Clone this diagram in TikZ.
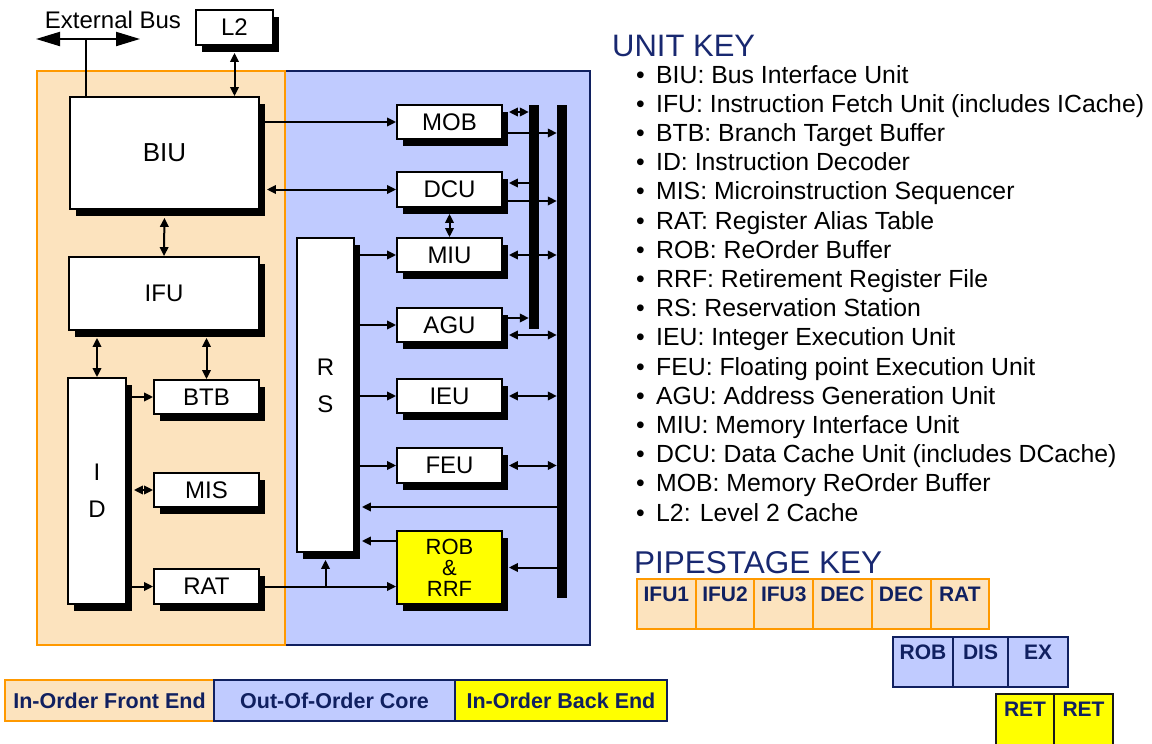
\documentclass[tikz,border=0pt]{standalone}
\usepackage{fontspec}
\setmainfont{Liberation Sans}
\usetikzlibrary{arrows.meta, calc, shadows}

\definecolor{peach}{RGB}{252,227,190}
\definecolor{fronte}{RGB}{255,153,0}
\definecolor{lavender}{RGB}{192,203,255}
\definecolor{navy}{RGB}{16,32,96}
\definecolor{keyblue}{RGB}{24,40,112}
\definecolor{retyellow}{RGB}{255,255,0}

\tikzset{
  unit/.style={draw, line width=1.8pt, fill=white, inner sep=0pt,
    font=\fontsize{24}{28}\selectfont,
    drop shadow={shadow xshift=6pt, shadow yshift=-7pt, fill=black, opacity=1}},
  bus/.style={fill=black, inner sep=0pt, minimum width=10pt},
  link/.style={line width=2pt},
  stage/.style={line width=2pt, inner sep=0pt, anchor=north west},
  stagetext/.style={font=\bfseries\fontsize{21}{24}\selectfont, text=navy,
    inner sep=0pt, anchor=north, yshift=-9pt},
  legend/.style={line width=2pt, inner sep=0pt, minimum height=41pt, anchor=north west,
    font=\bfseries\fontsize{21.5}{24}\selectfont, text=navy},
}

\begin{document}
\begin{tikzpicture}[x=1pt, y=-1pt, >={Triangle[length=9pt,width=8.5pt]}]
  \useasboundingbox (0,0) rectangle (1152,744);
  % the two core regions
  \filldraw[fill=lavender, draw=navy, line width=2pt] (285,71) rectangle (590,645);
  \filldraw[fill=peach, draw=fronte, line width=2pt] (37,71) rectangle (285,645);

  % front end units
  \node[unit, minimum width=77pt, minimum height=35pt] (l2) at (234.5,27.5) {L2};
  \node[unit, minimum width=189pt, minimum height=112pt, font=\fontsize{26}{30}\selectfont] (biu) at (164.5,153) {BIU};
  \node[unit, minimum width=190pt, minimum height=73pt] (ifu) at (164,293.5) {IFU};
  \node[unit, minimum width=58pt, minimum height=226pt, align=center, font=\fontsize{24}{37}\selectfont] (id) at (97,491) {I\\D};
  \node[unit, minimum width=105pt, minimum height=34pt] (btb) at (206.5,397) {BTB};
  \node[unit, minimum width=105pt, minimum height=34pt] (mis) at (206.5,490) {MIS};
  \node[unit, minimum width=105pt, minimum height=35pt] (rat) at (206.5,586.5) {RAT};

  % out-of-order core units
  \node[unit, minimum width=57pt, minimum height=314pt] (rs) at (325.5,395) {};
  \node[align=center, inner sep=0pt, font=\fontsize{24}{37}\selectfont] (rstext) at ([yshift=9pt]rs.center) {R\\S};
  \node[unit, minimum width=105pt, minimum height=34pt] (mob) at (449.5,122) {MOB};
  \node[unit, minimum width=105pt, minimum height=35pt] (dcu) at (449.5,189.5) {DCU};
  \node[unit, minimum width=105pt, minimum height=34pt] (miu) at (449.5,255) {MIU};
  \node[unit, minimum width=105pt, minimum height=34pt] (agu) at (449.5,325) {AGU};
  \node[unit, minimum width=105pt, minimum height=34pt] (ieu) at (449.5,396) {IEU};
  \node[unit, minimum width=105pt, minimum height=35pt] (feu) at (449.5,465.5) {FEU};
  \node[unit, fill=retyellow, minimum width=105pt, minimum height=73pt, align=center,
    font=\fontsize{22}{21}\selectfont] (rob) at (449.5,567.5) {ROB\\\&\\RRF};
  \node[bus, minimum height=224pt] (busA) at (534,217) {};
  \node[bus, minimum height=493pt] (busB) at (562,351.5) {};

  % external bus
  \node[inner sep=0pt, font=\fontsize{24}{28}\selectfont] (extbus) at (113,20) {External Bus};
  \coordinate (extL) at (36,39);
  \coordinate (extR) at (140,39);
  \coordinate (extmid) at (86,39);
  \draw[link, {Triangle[length=24pt,width=14pt]}-{Triangle[length=24pt,width=14pt]}] (extL) -- (extR);
  \draw[link] (extmid) -- (extmid |- biu.north);

  % front end links
  \draw[link, <->, shorten <=7pt] (l2.south) -- (l2.south |- biu.north);
  \draw[link, <->, shorten <=8pt] (biu.south) -- (ifu.north);
  \draw[link, <->, shorten <=7pt] (id.north |- ifu.south) -- (id.north);
  \draw[link, <->, shorten <=7pt] (btb.north |- ifu.south) -- (btb.north);
  \draw[link, ->] (btb.west -| id.east) -- (btb.west);
  \draw[link, <->, shorten <=7pt] (mis.west -| id.east) -- (mis.west);
  \draw[link, ->] (rat.west -| id.east) -- (rat.west);
  \draw[link, ->] (rat.east) -- (rat.east -| rob.west);
  \draw[link, ->, shorten >=7pt] (rat.east -| rs.south) -- (rs.south);

  % BIU to memory units
  \draw[link, ->] (mob.west -| biu.east) -- (mob.west);
  \draw[link, <->, shorten <=7pt] (dcu.west -| biu.east) -- (dcu.west);

  % RS dispatch
  \draw[link, ->] (miu.west -| rs.east) -- (miu.west);
  \draw[link, ->] (agu.west -| rs.east) -- (agu.west);
  \draw[link, ->] (ieu.west -| rs.east) -- (ieu.west);
  \draw[link, ->] (feu.west -| rs.east) -- (feu.west);
  \draw[link, <->, shorten <=6pt] (dcu.south) -- (miu.north);

  % buses
  \draw[link, <->, shorten <=6pt] ([yshift=10pt]mob.east) -- ([yshift=10pt]mob.east -| busA.west);
  \draw[link, ->] ([yshift=-11pt]mob.east) -- ([yshift=-11pt]mob.east -| busB.west);
  \draw[link, <-, shorten <=6pt] ([yshift=6.5pt]dcu.east) -- ([yshift=6.5pt]dcu.east -| busA.west);
  \draw[link, ->] ([yshift=-11.5pt]dcu.east) -- ([yshift=-11.5pt]dcu.east -| busB.west);
  \draw[link, <->, shorten <=6pt] (miu.east) -- (miu.east -| busB.west);
  \draw[link, ->] ([yshift=7pt]agu.east) -- ([yshift=7pt]agu.east -| busA.west);
  \draw[link, <->, shorten <=6pt] ([yshift=-10pt]agu.east) -- ([yshift=-10pt]agu.east -| busB.west);
  \draw[link, <->, shorten <=6pt] (ieu.east) -- (ieu.east -| busB.west);
  \draw[link, <->, shorten <=6pt] (feu.east) -- (feu.east -| busB.west);
  \coordinate (wb) at ($(feu.south)!0.5!(rob.north)$);
  \draw[link, ->, shorten >=7pt] (wb -| busB.west) -- (wb -| rs.east);
  \draw[link, ->, shorten >=7pt] ([yshift=26.5pt]rob.west) -- ([yshift=26.5pt]rob.west -| rs.east);
  \draw[link, ->, shorten >=6pt] (rob.east -| busB.west) -- (rob.east);

  % unit key
  \node[anchor=base west, inner sep=0pt, text=keyblue, font=\fontsize{31}{36}\selectfont] (unitkey) at (612,56) {UNIT KEY};
  \foreach \unitline [count=\k] in {BIU: Bus Interface Unit,
      IFU: Instruction Fetch Unit (includes ICache), BTB: Branch Target Buffer,
      ID: Instruction Decoder, MIS: Microinstruction Sequencer,
      RAT: Register Alias Table, ROB: ReOrder Buffer, RRF: Retirement Register File,
      RS: Reservation Station, IEU: Integer Execution Unit,
      FEU: Floating point Execution Unit, AGU: Address Generation Unit,
      MIU: Memory Interface Unit, DCU: Data Cache Unit (includes DCache),
      MOB: Memory ReOrder Buffer, L2: Level 2 Cache}
    \node[anchor=base west, inner sep=0pt, font=\fontsize{24.8}{28}\selectfont] (key\k)
      at (636,53.8+29.2*\k) {\makebox[20pt][l]{\textbullet}\unitline};

  % pipestage key
  \node[anchor=base west, inner sep=0pt, text=keyblue, font=\fontsize{31.5}{36}\selectfont] (pipekey) at (634,573) {PIPESTAGE KEY};
  \foreach \lbl [count=\k] in {IFU1,IFU2,IFU3,DEC,DEC,RAT}
    \node[stage, fill=peach, draw=fronte, minimum width=58.7pt, minimum height=50pt,
      label={[stagetext]north:\lbl}] (fe\k) at (636+58.7*\k-58.7,578) {};
  \foreach \x/\w/\lbl [count=\k] in {892/60/ROB, 952/55/DIS, 1007/60/EX}
    \node[stage, fill=lavender, draw=navy, minimum width=\w pt, minimum height=50pt,
      label={[stagetext]north:\lbl}] (oo\k) at (\x,636) {};
  \foreach \x/\w [count=\k] in {995/58, 1053/59}
    \node[stage, fill=retyellow, draw=black!90, minimum width=\w pt, minimum height=62pt,
      label={[stagetext]north:RET}] (re\k) at (\x,693) {};

  % legend
  \node[legend, fill=peach, draw=fronte, minimum width=209pt] (frontend) at (4,679) {In-Order Front End};
  \node[legend, fill=lavender, draw=navy, minimum width=241pt] (oocore) at (213,679) {Out-Of-Order Core};
  \node[legend, fill=retyellow, draw=navy, minimum width=212pt] (backend) at (454,679) {In-Order Back End};
\end{tikzpicture}
\end{document}
